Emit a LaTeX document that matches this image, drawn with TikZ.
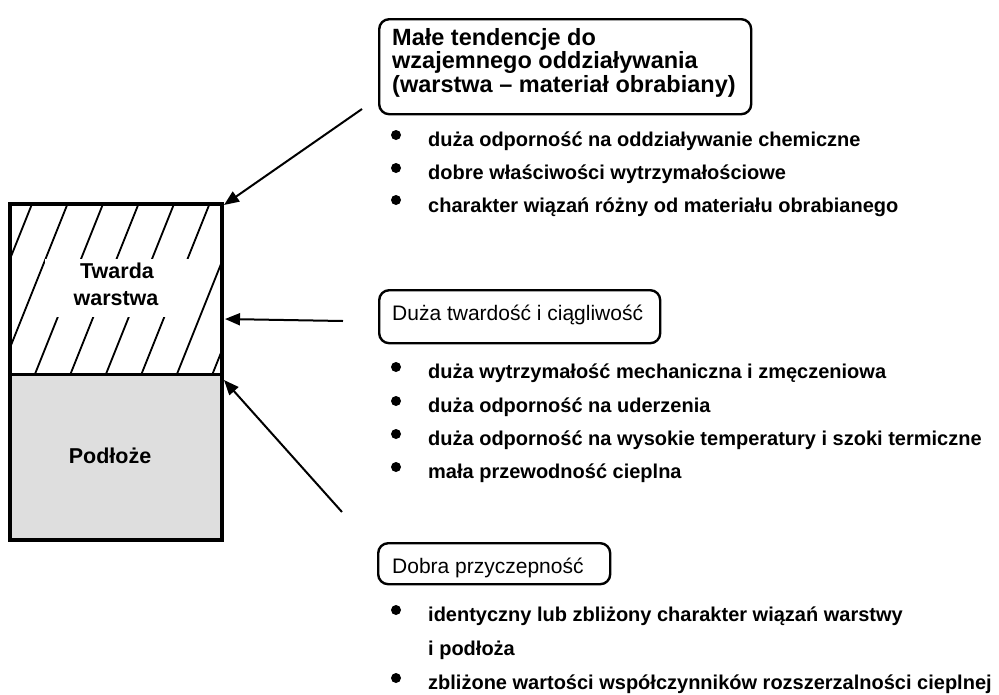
\documentclass[tikz,border=0pt]{standalone}
\usepackage{fontspec}
\setmainfont{Liberation Sans}
\usetikzlibrary{arrows.meta}
\begin{document}
\begin{tikzpicture}[x=1pt,y=-1pt,
  outl/.style={line width=3.5pt},
  arr/.style={line width=2pt,-{Triangle[length=15pt,width=12pt]}},
  hatchline/.style={line width=1.8pt},
  rbox/.style={draw,line width=2.4pt,rounded corners=10pt,anchor=north west,inner sep=0pt},
  bul/.style={circle,fill=black,inner sep=0pt,minimum size=10pt},
  itm/.style={anchor=base west,inner sep=0pt,font=\bfseries\fontsize{20}{24}\selectfont},
  ttl/.style={anchor=base west,inner sep=0pt,font=\fontsize{21}{25}\selectfont},
  hdr/.style={anchor=base west,inner sep=0pt,font=\bfseries\fontsize{23.5}{24}\selectfont},
  lbl/.style={anchor=base,inner sep=0pt,font=\bfseries\fontsize{21.5}{24}\selectfont},
]
\useasboundingbox (0,0) rectangle (999,694);
% ---- left block ----
\fill[black!13] (10,374) rectangle (222,540);
\begin{scope}
  \clip (10,204) rectangle (222,374);
  \foreach \k in {0,...,7}{
    \draw[hatchline] ({32+35.5*\k},204) -- ({32+35.5*\k-68},374);
  }
\end{scope}
\fill[white] (45,259) rectangle (198,317);
\node[lbl] (tw1) at (117,278) {Twarda};
\node[lbl] (tw2) at (116,305) {warstwa};
\node[lbl] (pod) at (110,463) {Podłoże};
\draw[outl] (10,204) rectangle (222,540);
\draw[line width=3pt] (10,374) -- (222,374);
% ---- boxes ----
\node[rbox,minimum width=372pt,minimum height=95pt] (box1) at (378,18) {};
\node[hdr] (h1) at (392,45) {Małe tendencje do};
\node[hdr] (h2) at (392,68.5) {wzajemnego oddziaływania};
\node[hdr] (h3) at (392,92) {(warstwa – materiał obrabiany)};
\node[rbox,minimum width=281pt,minimum height=53pt] (box2) at (378,289) {};
\node[ttl] (t2) at (392,320) {Duża twardość i ciągliwość};
\node[rbox,minimum width=232pt,minimum height=41pt] (box3) at (377,542) {};
\node[ttl] (t3) at (392,573) {Dobra przyczepność};
% ---- list 1 ----
\node[bul] (b11) at (396,135) {};
\node[itm] (i11) at (428,146) {duża odporność na oddziaływanie chemiczne};
\node[bul] (b12) at (396,168) {};
\node[itm] (i12) at (428,179) {dobre właściwości wytrzymałościowe};
\node[bul] (b13) at (396,200) {};
\node[itm] (i13) at (428,212) {charakter wiązań różny od materiału obrabianego};
% ---- list 2 ----
\node[bul] (b21) at (396,367) {};
\node[itm] (i21) at (428,378) {duża wytrzymałość mechaniczna i zmęczeniowa};
\node[bul] (b22) at (396,401) {};
\node[itm] (i22) at (428,412) {duża odporność na uderzenia};
\node[bul] (b23) at (396,434) {};
\node[itm] (i23) at (428,445) {duża odporność na wysokie temperatury i szoki termiczne};
\node[bul] (b24) at (396,467) {};
\node[itm] (i24) at (428,478) {mała przewodność cieplna};
% ---- list 3 ----
\node[bul] (b31) at (396,610) {};
\node[itm] (i31) at (428,621) {identyczny lub zbliżony charakter wiązań warstwy};
\node[itm] (i32) at (428,655) {i podłoża};
\node[bul] (b33) at (396,678) {};
\node[itm] (i33) at (428,689) {zbliżone wartości współczynników rozszerzalności cieplnej};
% ---- arrows ----
\coordinate (a1s) at (362,109);
\coordinate (a1e) at (224,205);
\coordinate (a2s) at (343,321);
\coordinate (a2e) at (225,319);
\coordinate (a3s) at (342,512);
\coordinate (a3e) at (224,380);
\draw[arr] (a1s) -- (a1e);
\draw[arr] (a2s) -- (a2e);
\draw[arr] (a3s) -- (a3e);
\end{tikzpicture}
\end{document}
